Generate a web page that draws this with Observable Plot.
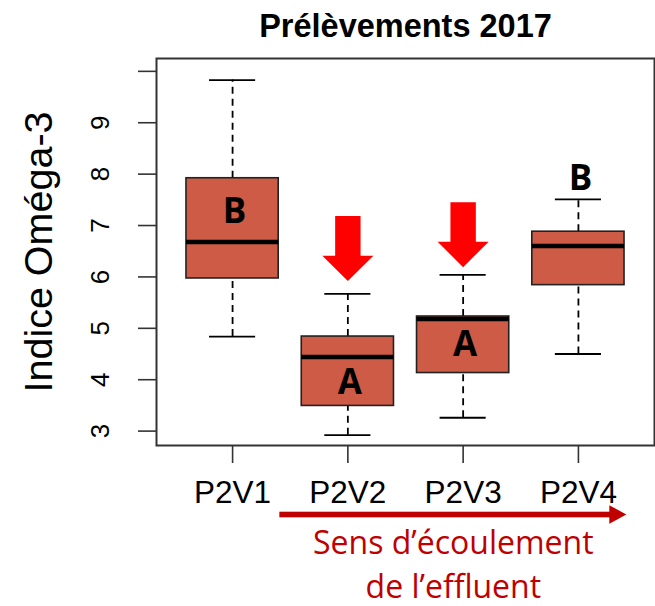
<!DOCTYPE html>
<html><head><meta charset="utf-8">
<script src="https://cdn.jsdelivr.net/npm/d3@7"></script>
<script src="https://cdn.jsdelivr.net/npm/@observablehq/plot@0.6"></script>
<style>html,body{margin:0;padding:0;background:#fff}</style>
</head><body><div id="chart"></div>
<script>
// ---- data ----
const sites = ["P2V1", "P2V2", "P2V3", "P2V4"];
const whiskerLow = [4.84, 2.92, 3.26, 4.50];
const q1 = [5.97, 3.49, 4.13, 5.84];
const median = [6.68, 4.44, 5.18, 6.60];
const q3 = [7.92, 4.84, 5.23, 6.88];
const whiskerHigh = [9.83, 5.67, 6.04, 7.51];
const groupLetters = ["B", "A", "A", "B"];
const letterY = [7.27, 3.94, 4.67, 7.90];
const arrowSites = ["P2V2", "P2V3"];
const arrowTipY = [5.92, 6.19];
const yTicks = [3, 4, 5, 6, 7, 8, 9, 10];
const titleText = "Prélèvements 2017";
const yLabel = "Indice Oméga-3";
const flowText = "Sens d’écoulement\nde l’effluent";
const flowFrom = 1.41, flowTo = 4.42; // in x-category units

// ---- tables ----
const boxes = sites.map((s, i) => ({
  site: s, idx: i + 1,
  lo: whiskerLow[i], q1: q1[i], med: median[i], q3: q3[i], hi: whiskerHigh[i],
  letter: groupLetters[i], ly: letterY[i]
}));
const arrows = arrowSites.map((s, i) => ({idx: sites.indexOf(s) + 1, tip: arrowTipY[i]}));

const boxFill = "#CD5B45";
const flowColor = "#C00000";
const halfBox = 0.4, halfStaple = 0.2;

const blockArrow = {
  draw(context, l) {
    const w = 12.7, W = 25.5, h = 25.4;
    context.moveTo(-w, 0);
    context.lineTo(w, 0);
    context.lineTo(w, -(l - h));
    context.lineTo(W, -(l - h));
    context.lineTo(0, -l);
    context.lineTo(-W, -(l - h));
    context.lineTo(-w, -(l - h));
    context.closePath();
  }
};

function flowArrowMark(index, scales, values, dimensions) {
  const xa = scales.x(flowFrom), xb = scales.x(flowTo);
  const y = dimensions.height - dimensions.marginBottom + 69.5;
  const g = d3.create("svg:g").attr("fill", flowColor);
  g.append("rect").attr("x", xa).attr("y", y - 2.8).attr("width", xb - xa - 15).attr("height", 5.6);
  g.append("path").attr("d", `M${xb - 17},${y - 9.3}L${xb},${y}L${xb - 17},${y + 9.3}Z`);
  return g.node();
}

const plot = Plot.plot({
  width: 655,
  height: 606,
  marginLeft: 156,
  marginRight: 1,
  marginTop: 58,
  marginBottom: 161,
  style: {fontFamily: "Liberation Sans, Arial, sans-serif", background: "#fff", color: "#000", overflow: "visible"},
  x: {type: "linear", domain: [0.34, 4.66]},
  y: {domain: [2.72, 10.25]},
  marks: [
    // whiskers
    Plot.ruleX(boxes, {x: "idx", y1: "q3", y2: "hi", stroke: "#000", strokeWidth: 1.8, strokeDasharray: "7,5"}),
    Plot.ruleX(boxes, {x: "idx", y1: "lo", y2: "q1", stroke: "#000", strokeWidth: 1.8, strokeDasharray: "7,5"}),
    Plot.ruleY(boxes, {y: "hi", x1: d => d.idx - halfStaple, x2: d => d.idx + halfStaple, stroke: "#000", strokeWidth: 1.8}),
    Plot.ruleY(boxes, {y: "lo", x1: d => d.idx - halfStaple, x2: d => d.idx + halfStaple, stroke: "#000", strokeWidth: 1.8}),
    // boxes
    Plot.rect(boxes, {x1: d => d.idx - halfBox, x2: d => d.idx + halfBox, y1: "q1", y2: "q3", fill: boxFill, stroke: "#222", strokeWidth: 1.6}),
    Plot.ruleY(boxes, {y: "med", x1: d => d.idx - halfBox, x2: d => d.idx + halfBox, stroke: "#000", strokeWidth: 4.5}),
    // frame
    Plot.frame({stroke: "#333", strokeWidth: 2}),
    // axes
    Plot.axisY({ticks: yTicks, tickFormat: d => d === 10 ? "" : d, tickSize: 18, tickRotate: -90, tickPadding: 30, fontSize: 26, label: null, stroke: "#333", strokeWidth: 1.6}),
    Plot.axisX({ticks: [1, 2, 3, 4], tickFormat: d => sites[d - 1], tickSize: 18, tickPadding: 17, fontSize: 31.5, label: null, stroke: "#333", strokeWidth: 1.6}),
    // group letters
    Plot.text(boxes, {x: "idx", y: "ly", text: "letter", fontSize: 35, fontWeight: 700, fontFamily: "Open Sans", fill: "#000", lineAnchor: "middle", dx: 2}),
    // red arrows
    Plot.vector(arrows, {x: "idx", y: "tip", length: 65, rotate: 180, anchor: "end", shape: blockArrow, fill: "#FF0000", stroke: "none"}),
    // title
    Plot.text([titleText], {text: d => d, frameAnchor: "top", lineAnchor: "bottom", dy: -21.5, fontSize: 32.5, fontWeight: 700, fill: "#000"}),
    // y label
    Plot.text([yLabel], {text: d => d, frameAnchor: "left", textAnchor: "middle", rotate: -90, lineAnchor: "top", dx: -133, fontSize: 39.5, fill: "#000"}),
    // flow arrow + caption
    flowArrowMark,
    Plot.text([flowText], {x: () => (flowFrom + flowTo) / 2, text: d => d, frameAnchor: "bottom", lineAnchor: "top", dy: 77, fontSize: 32, lineHeight: 1.38, fontFamily: "Open Sans", fill: flowColor})
  ]
});
document.getElementById("chart").appendChild(plot);
</script>
</body></html>
